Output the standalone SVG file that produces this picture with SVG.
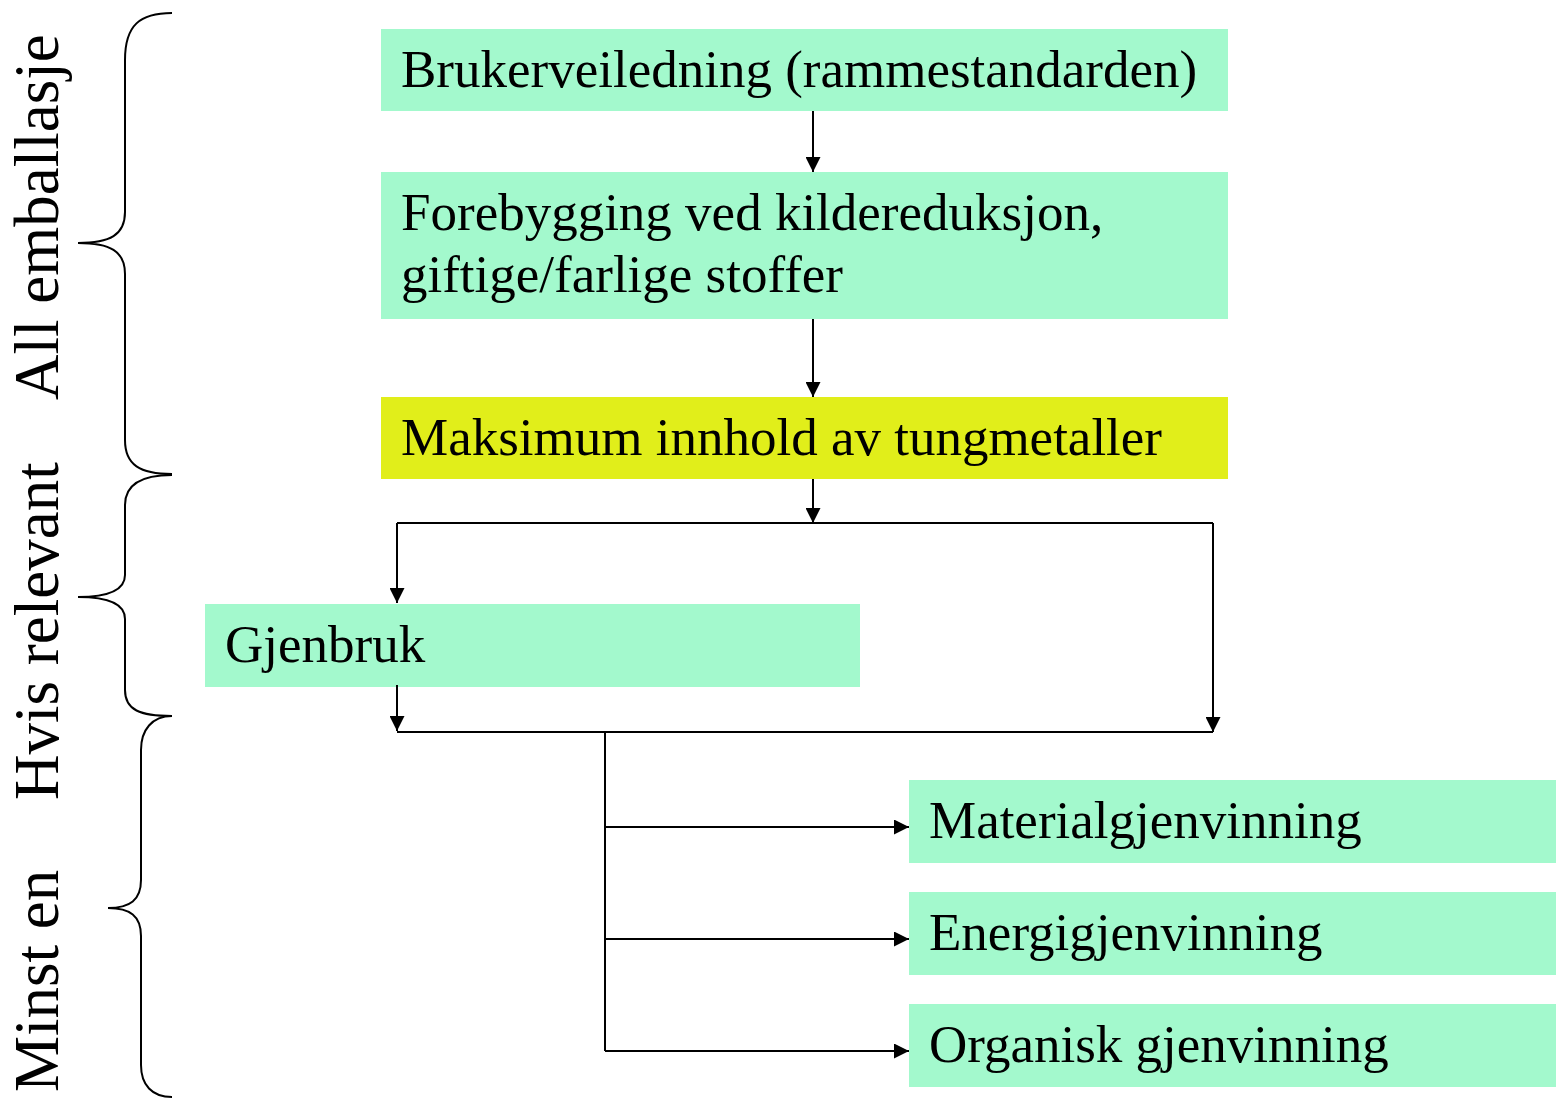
<svg xmlns="http://www.w3.org/2000/svg" width="1556" height="1100" viewBox="0 0 1556 1100">
<style>
.box{fill:#A3F9CD;stroke:none}
.ybox{fill:#E1EE1A;stroke:none}
.t{font-family:"Liberation Serif","Times New Roman",serif;font-size:53px;fill:#000}
.side{font-family:"Liberation Serif","Times New Roman",serif;font-size:63px;fill:#000}
.ln{stroke:#000;stroke-width:2;fill:none}
.ar{stroke:#000;stroke-width:2;fill:none;marker-end:url(#ah)}
.br{stroke:#000;stroke-width:2;fill:none}
</style>
<defs>
<marker id="ah" markerWidth="15" markerHeight="15" viewBox="0 0 15 15" refX="15" refY="7.5" orient="auto" markerUnits="userSpaceOnUse">
<path d="M0,0 L15,7.5 L0,15 Z" fill="#000"/>
</marker>
</defs>
<rect width="1556" height="1100" fill="#fff"/>

<g id="labels">
<text class="side" transform="translate(58,400) rotate(-90)">All emballasje</text>
<text class="side" transform="translate(58,800) rotate(-90)">Hvis relevant</text>
<text class="side" transform="translate(58,1092) rotate(-90)">Minst en</text>
</g>

<g id="braces">
<path class="br" d="M172,13 C140,13 125,25 125,60 L125,212 C125,235 110,243 78,243 C110,243 125,251 125,274 L125,440 C125,465 140,474 172,474"/>
<path class="br" d="M172,475 C140,475 125,485 125,505 L125,575 C125,590 110,597 78,597 C110,597 125,604 125,619 L125,690 C125,710 140,716 172,716"/>
<path class="br" d="M172,716 C152,716 141,730 141,750 L141,880 C141,900 130,908 108,908 C130,908 141,916 141,936 L141,1065 C141,1085 152,1097 172,1097"/>
</g>

<g id="n1">
<rect class="box" x="381" y="29" width="847" height="82"/>
<text class="t" x="401" y="87">Brukerveiledning (rammestandarden)</text>
</g>
<g id="n2">
<rect class="box" x="381" y="172" width="847" height="147"/>
<text class="t" x="401" y="230">Forebygging ved kildereduksjon,</text>
<text class="t" x="401" y="292">giftige/farlige stoffer</text>
</g>
<g id="n3">
<rect class="ybox" x="381" y="397" width="847" height="82"/>
<text class="t" x="401" y="455">Maksimum innhold av tungmetaller</text>
</g>
<g id="n4">
<rect class="box" x="205" y="604" width="655" height="83"/>
<text class="t" x="225" y="662">Gjenbruk</text>
</g>
<g id="n5">
<rect class="box" x="909" y="780" width="647" height="83"/>
<text class="t" x="929" y="838">Materialgjenvinning</text>
</g>
<g id="n6">
<rect class="box" x="909" y="892" width="647" height="83"/>
<text class="t" x="929" y="950">Energigjenvinning</text>
</g>
<g id="n7">
<rect class="box" x="909" y="1004" width="647" height="83"/>
<text class="t" x="929" y="1062">Organisk gjenvinning</text>
</g>

<g id="connectors">
<line class="ar" x1="813" y1="111" x2="813" y2="172"/>
<line class="ar" x1="813" y1="319" x2="813" y2="397"/>
<line class="ar" x1="813" y1="479" x2="813" y2="523"/>
<line class="ln" x1="397" y1="523" x2="1213" y2="523"/>
<line class="ar" x1="397" y1="523" x2="397" y2="603"/>
<line class="ar" x1="1213" y1="523" x2="1213" y2="732"/>
<line class="ar" x1="397" y1="685" x2="397" y2="731"/>
<line class="ln" x1="397" y1="732" x2="1213" y2="732"/>
<line class="ln" x1="605" y1="732" x2="605" y2="1051"/>
<line class="ar" x1="605" y1="827" x2="909" y2="827"/>
<line class="ar" x1="605" y1="939" x2="909" y2="939"/>
<line class="ar" x1="605" y1="1051" x2="909" y2="1051"/>
</g>
</svg>
